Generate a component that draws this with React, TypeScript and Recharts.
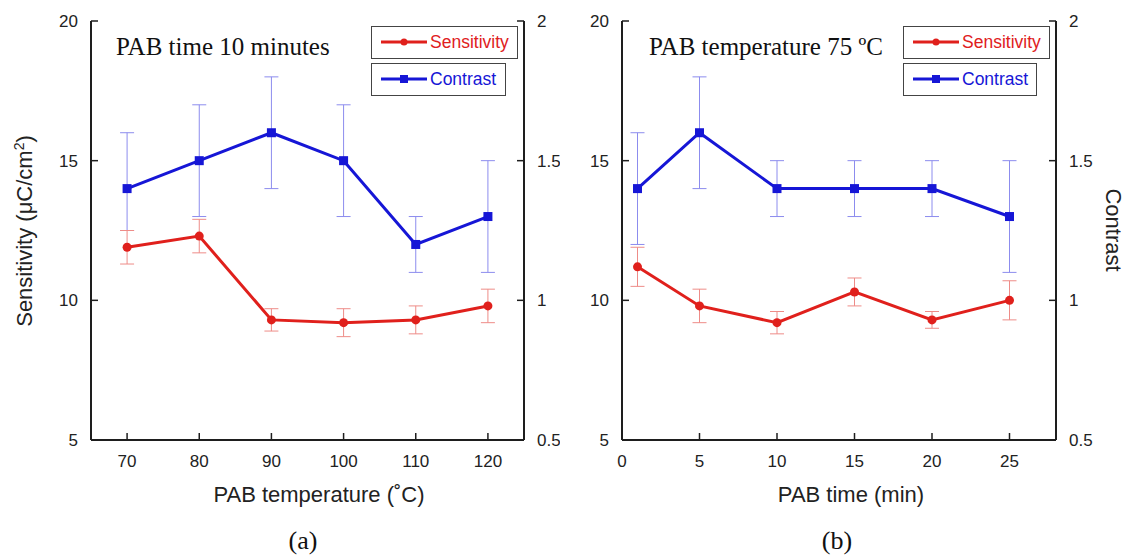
import React from 'react';
import { LineChart, Line, XAxis, YAxis, ErrorBar, Legend } from 'recharts';

// ---- Data: panel (a) PAB temperature series ----
const tempCategories = [70, 80, 90, 100, 110, 120];
const tempSensitivity = [11.9, 12.3, 9.3, 9.2, 9.3, 9.8];
const tempSensitivityErr = [0.6, 0.6, 0.4, 0.5, 0.5, 0.6];
const tempContrast = [1.4, 1.5, 1.6, 1.5, 1.2, 1.3];
const tempContrastErr = [[0.15, 0.2], [0.2, 0.2], [0.2, 0.2], [0.2, 0.2], [0.1, 0.1], [0.2, 0.2]];

// ---- Data: panel (b) PAB time series ----
const timeCategories = [1, 5, 10, 15, 20, 25];
const timeSensitivity = [11.2, 9.8, 9.2, 10.3, 9.3, 10.0];
const timeSensitivityErr = [0.7, 0.6, 0.4, 0.5, 0.3, 0.7];
const timeContrast = [1.4, 1.6, 1.4, 1.4, 1.4, 1.3];
const timeContrastErr = [0.2, 0.2, 0.1, 0.1, 0.1, 0.2];

// ---- Ticks ----
const tempTicks = [70, 80, 90, 100, 110, 120];
const timeTicks = [0, 5, 10, 15, 20, 25];
const sensitivityTicks = [5, 10, 15, 20];
const contrastTicks = [0.5, 1, 1.5, 2];

const RED = '#e0201c';
const BLUE = '#1616d6';
const RED_ERR = '#ee8c88';
const BLUE_ERR = '#8c8cee';
const AXIS = '#1e1e1e';
const FONT = '"Liberation Sans", Arial, Helvetica, sans-serif';
const SERIF = '"Liberation Serif", "Times New Roman", serif';

const buildData = (xs: number[], s: number[], se: any[], c: number[], ce: any[]) =>
  xs.map((x, i) => ({ x, sens: s[i], sensErr: se[i], cont: c[i], contErr: ce[i] }));

const tempData = buildData(tempCategories, tempSensitivity, tempSensitivityErr, tempContrast, tempContrastErr);
const timeData = buildData(timeCategories, timeSensitivity, timeSensitivityErr, timeContrast, timeContrastErr);

const BottomTick = (props: any) => {
  const { x, y, payload } = props;
  return (
    <g>
      <line x1={x} y1={y} x2={x} y2={y - 7} stroke={AXIS} strokeWidth={1.5} />
      <text x={x} y={y + 27} textAnchor="middle" fontSize={17} fontFamily={FONT} fill="#222">
        {payload.value}
      </text>
    </g>
  );
};

const TopTick = (props: any) => {
  const { x, y } = props;
  return <line x1={x} y1={y} x2={x} y2={y + 7} stroke={AXIS} strokeWidth={1.5} />;
};

const LeftTick = (props: any) => {
  const { x, y, payload } = props;
  return (
    <g>
      <line x1={x} y1={y} x2={x + 7} y2={y} stroke={AXIS} strokeWidth={1.5} />
      <text x={x - 13} y={y + 6} textAnchor="end" fontSize={17} fontFamily={FONT} fill="#222">
        {payload.value}
      </text>
    </g>
  );
};

const RightTick = (props: any) => {
  const { x, y, payload } = props;
  return (
    <g>
      <line x1={x} y1={y} x2={x - 7} y2={y} stroke={AXIS} strokeWidth={1.5} />
      <text x={x + 13} y={y + 6} textAnchor="start" fontSize={17} fontFamily={FONT} fill="#222">
        {payload.value}
      </text>
    </g>
  );
};

const SquareDot = (props: any) => {
  const { cx, cy, index } = props;
  if (cx == null || cy == null) return null;
  return <rect key={`sq-${index}`} x={cx - 4.5} y={cy - 4.5} width={9} height={9} fill={BLUE} />;
};

const LegendItem = ({ top, w, color, label, square }: any) => (
  <div
    style={{
      position: 'absolute',
      left: 0,
      top,
      width: w,
      height: 33,
      boxSizing: 'border-box',
      border: '1.5px solid #444',
      background: '#fff',
    }}
  >
    <svg width={60} height={30} style={{ position: 'absolute', left: 0, top: 0 }}>
      <line x1={9} y1={15} x2={55} y2={15} stroke={color} strokeWidth={3} />
      {square ? (
        <rect x={28} y={11} width={8} height={8} fill={color} />
      ) : (
        <circle cx={32} cy={15} r={3.5} fill={color} />
      )}
    </svg>
    <span
      style={{
        position: 'absolute',
        left: 58,
        top: 0,
        lineHeight: '30px',
        fontSize: 17.5,
        fontFamily: FONT,
        color,
        whiteSpace: 'nowrap',
      }}
    >
      {label}
    </span>
  </div>
);

const Panel = ({ left, width, yLeftWidth, yRightWidth, xDomain, xTicks, data, legendLeft, sensBoxW, contBoxW }: any) => (
  <div style={{ position: 'absolute', left, top: 0 }}>
    <LineChart width={width} height={560} data={data} margin={{ top: 21, right: 0, bottom: 0, left: 0 }}>
      <XAxis
        dataKey="x"
        type="number"
        domain={xDomain}
        ticks={xTicks}
        interval={0}
        allowDataOverflow
        height={120}
        axisLine={{ stroke: AXIS, strokeWidth: 2 }}
        tickLine={false}
        tickSize={0}
        tickMargin={0}
        tick={BottomTick}
      />
      <XAxis
        xAxisId="top"
        orientation="top"
        dataKey="x"
        type="number"
        domain={xDomain}
        ticks={xTicks}
        interval={0}
        allowDataOverflow
        height={0}
        axisLine={{ stroke: AXIS, strokeWidth: 2 }}
        tickLine={false}
        tickSize={0}
        tickMargin={0}
        tick={TopTick}
      />
      <YAxis
        yAxisId="s"
        type="number"
        domain={[5, 20]}
        ticks={sensitivityTicks}
        interval={0}
        allowDataOverflow
        width={yLeftWidth}
        axisLine={{ stroke: AXIS, strokeWidth: 2 }}
        tickLine={false}
        tickSize={0}
        tickMargin={0}
        tick={LeftTick}
      />
      <YAxis
        yAxisId="c"
        orientation="right"
        type="number"
        domain={[0.5, 2]}
        ticks={contrastTicks}
        interval={0}
        allowDataOverflow
        width={yRightWidth}
        axisLine={{ stroke: AXIS, strokeWidth: 2 }}
        tickLine={false}
        tickSize={0}
        tickMargin={0}
        tick={RightTick}
      />
      <Line
        yAxisId="c"
        dataKey="cont"
        name="Contrast"
        stroke={BLUE}
        strokeWidth={3}
        dot={SquareDot}
        activeDot={false}
        isAnimationActive={false}
      >
        <ErrorBar dataKey="contErr" width={7} stroke={BLUE_ERR} strokeWidth={1} direction="y" />
      </Line>
      <Line
        yAxisId="s"
        dataKey="sens"
        name="Sensitivity"
        stroke={RED}
        strokeWidth={3}
        dot={{ r: 4.5, fill: RED, stroke: RED, strokeWidth: 0 }}
        activeDot={false}
        isAnimationActive={false}
      >
        <ErrorBar dataKey="sensErr" width={7} stroke={RED_ERR} strokeWidth={1} direction="y" />
      </Line>
      <Legend
        layout="horizontal"
        verticalAlign="middle"
        align="center"
        wrapperStyle={{ left: legendLeft, top: 26, width: 160, height: 72 }}
        content={() => (
          <div style={{ position: 'relative', width: 160, height: 72 }}>
            <LegendItem top={0} w={sensBoxW} color={RED} label="Sensitivity" />
            <LegendItem top={37} w={contBoxW} color={BLUE} label="Contrast" square />
          </div>
        )}
      />
    </LineChart>
  </div>
);

export default function App() {
  return (
    <div style={{ position: 'absolute', left: 0, top: 0, width: 1131, height: 560, background: '#fff', overflow: 'hidden' }}>
      <Panel
        left={0}
        width={560}
        yLeftWidth={91}
        yRightWidth={36}
        xDomain={[65, 125]}
        xTicks={tempTicks}
        data={tempData}
        legendLeft={371}
        sensBoxW={147}
        contBoxW={135}
      />
      <Panel
        left={560}
        width={571}
        yLeftWidth={62}
        yRightWidth={75}
        xDomain={[0, 28]}
        xTicks={timeTicks}
        data={timeData}
        legendLeft={343}
        sensBoxW={147}
        contBoxW={134}
      />
      <svg
        width={1131}
        height={560}
        style={{ position: 'absolute', left: 0, top: 0, pointerEvents: 'none' }}
      >
        <text x={116} y={55} fontFamily={SERIF} fontSize={25} fill="#111">PAB time 10 minutes</text>
        <text x={649} y={55} fontFamily={SERIF} fontSize={25} fill="#111">PAB temperature 75 ºC</text>
        <text x={319} y={502} textAnchor="middle" fontFamily={FONT} fontSize={22} fill="#222">PAB temperature (˚C)</text>
        <text x={851} y={502} textAnchor="middle" fontFamily={FONT} fontSize={22} fill="#222">PAB time (min)</text>
        <text x={303} y={549} textAnchor="middle" fontFamily={SERIF} fontSize={26} fill="#111">(a)</text>
        <text x={837} y={549} textAnchor="middle" fontFamily={SERIF} fontSize={26} fill="#111">(b)</text>
        <text
          x={32}
          y={231}
          textAnchor="middle"
          transform="rotate(-90, 32, 231)"
          fontFamily={FONT}
          fontSize={22}
          fill="#222"
        >
          Sensitivity (μC/cm<tspan dy={-8} fontSize={14}>2</tspan><tspan dy={8}>)</tspan>
        </text>
        <text
          x={1106}
          y={230}
          textAnchor="middle"
          transform="rotate(90, 1106, 230)"
          fontFamily={FONT}
          fontSize={22}
          fill="#222"
        >
          Contrast
        </text>
      </svg>
    </div>
  );
}
